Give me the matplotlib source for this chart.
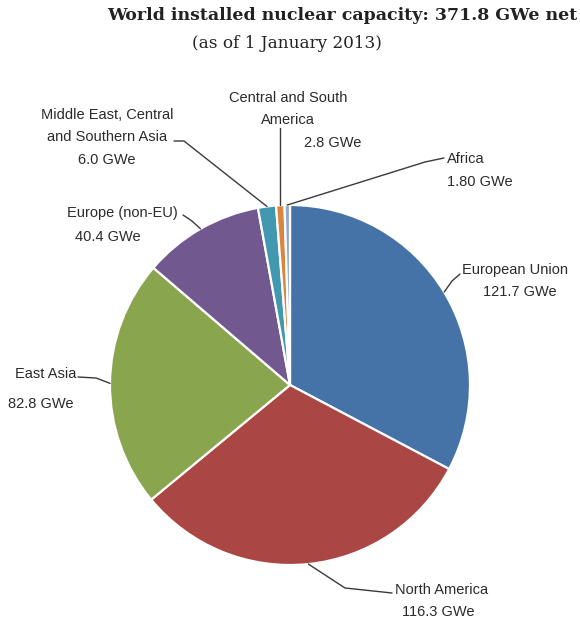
import matplotlib
matplotlib.use('Agg')
import matplotlib.pyplot as plt
import numpy as np

# ---- data -------------------------------------------------------------
regions = ['European Union', 'North America', 'East Asia', 'Europe (non-EU)',
           'Middle East, Central\nand Southern Asia',
           'Central and South\nAmerica', 'Africa']
capacity = [121.7, 116.3, 82.8, 40.4, 6.0, 2.8, 1.80]
value_labels = ['121.7 GWe', '116.3 GWe', '82.8 GWe', '40.4 GWe',
                '6.0 GWe', '2.8 GWe', '1.80 GWe']
colors = ['#4572A7', '#AA4643', '#89A54E', '#71588F',
          '#4198AF', '#DB843D', '#93A9CF']

TITLE = 'World installed nuclear capacity: 371.8 GWe net'
SUBTITLE = '(as of 1 January 2013)'

# ---- layout (pixel coordinates, y down) -------------------------------
W, H = 580, 620
CX, CY, R = 290, 385, 180
TXT = '#2b2b2b'
LINE = '#3a3a3a'
FS = 10.5

# per slice: name lines [(x, y, ha)], value (x, y, ha), leader points before anchor
layout = [
    dict(name=[(462, 270, 'left')], value=(520, 292, 'center'),
         leader=[(460, 274), (452, 281)]),
    dict(name=[(442, 590, 'center')], value=(438, 612, 'center'),
         leader=[(392, 593), (345, 588)]),
    dict(name=[(76, 374, 'right')], value=(73, 404, 'right'),
         leader=[(78, 377), (96, 378)]),
    dict(name=[(122, 213, 'center')], value=(108, 237, 'center'),
         leader=[(183, 215), (192, 221)]),
    dict(name=[(107, 115, 'center'), (107, 137, 'center')],
         value=(107, 160, 'center'),
         leader=[(174, 141), (184, 141)]),
    dict(name=[(288, 98, 'center'), (288, 120, 'center')],
         value=(333, 143, 'center'),
         leader=[('v', 128)]),
    dict(name=[(447, 159, 'left')], value=(447, 182, 'left'),
         leader=[(444, 158), (425, 162)]),
]

fig = plt.figure(figsize=(W / 100, H / 100), dpi=100)
ax = fig.add_axes([0, 0, 1, 1])

# y axis inverted -> counterclockwise in data is clockwise on screen
wedges, _ = ax.pie(capacity, colors=colors, startangle=-90, counterclock=True,
                   center=(CX, CY), radius=R,
                   wedgeprops=dict(edgecolor='white', linewidth=1.6))
ax.set_xlim(0, W)
ax.set_ylim(H, 0)
ax.set_aspect('equal')
ax.axis('off')

for wdg, name, val, lay in zip(wedges, regions, value_labels, layout):
    th = np.deg2rad((wdg.theta1 + wdg.theta2) / 2)
    ax_, ay_ = CX + R * np.cos(th), CY + R * np.sin(th)
    pts = []
    for p in lay['leader']:
        if p[0] == 'v':
            pts.append((ax_, p[1]))
        else:
            pts.append(p)
    pts.append((ax_, ay_))
    xs, ys = zip(*pts)
    ax.plot(xs, ys, color=LINE, lw=1.0, solid_capstyle='round')

    for line, (x, y, ha) in zip(name.split('\n'), lay['name']):
        ax.text(x, y, line, ha=ha, va='center', fontsize=FS, color=TXT,
                family='Liberation Sans')
    x, y, ha = lay['value']
    ax.text(x, y, val, ha=ha, va='center', fontsize=FS, color=TXT,
            family='Liberation Sans')

ax.text(342, 16, TITLE, ha='center', va='center', fontsize=12.5,
        fontweight='bold', family='DejaVu Serif', color='#222222')
ax.text(287, 44, SUBTITLE, ha='center', va='center', fontsize=12.2,
        family='DejaVu Serif', color='#222222')

fig.savefig('out.png', dpi=100)
